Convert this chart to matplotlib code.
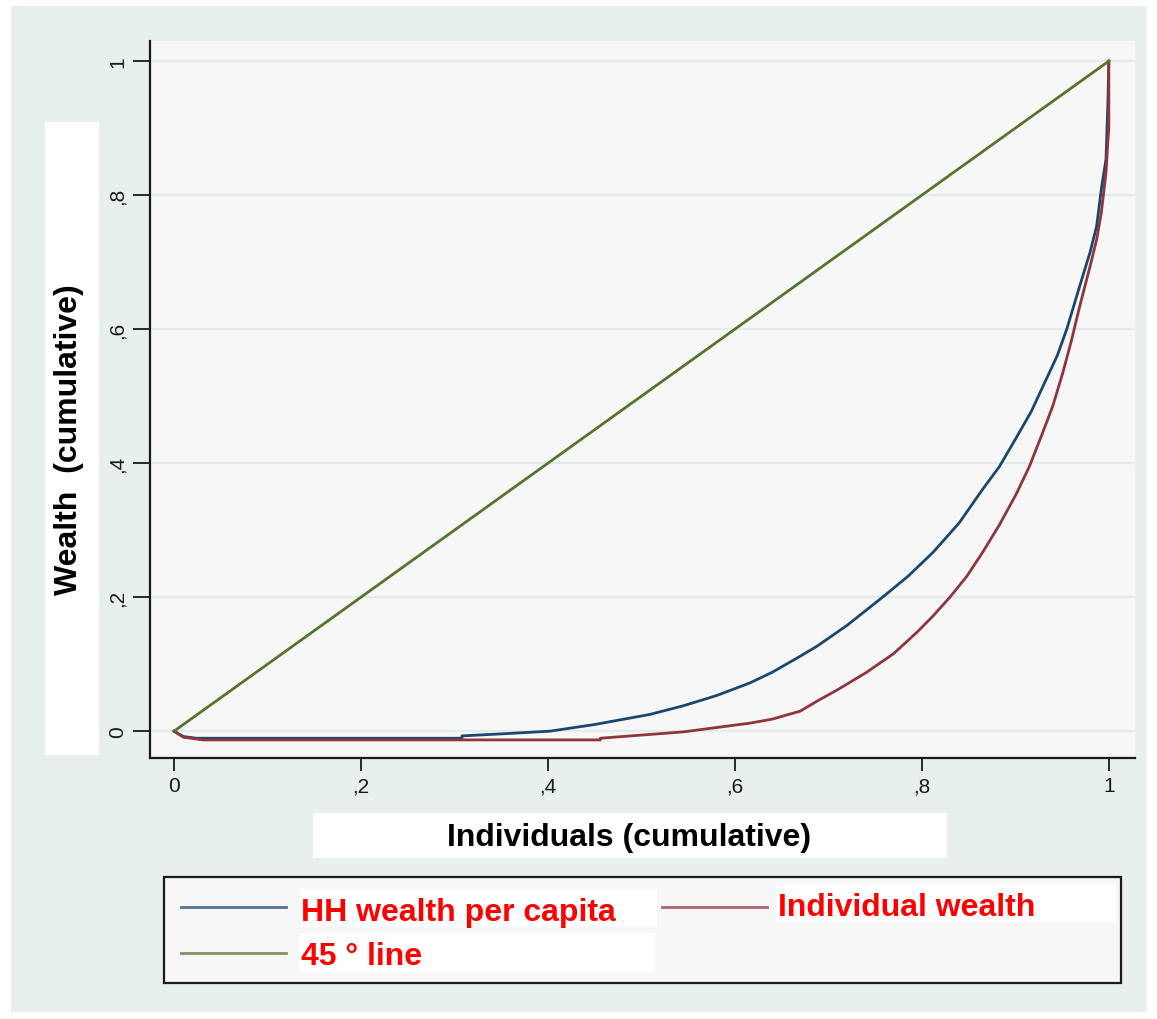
# ============================================================
# LIBRARIES
# ============================================================

import matplotlib
matplotlib.use("Agg")

import matplotlib.pyplot as plt
from matplotlib.patches import Rectangle
from matplotlib.lines import Line2D


# ============================================================
# DATA (Lorenz curves)
# ============================================================

hh_x = [0.0, 0.010, 0.024, 0.308, 0.308, 0.35, 0.402, 0.45, 0.509,
        0.545, 0.58, 0.616, 0.64, 0.670, 0.688, 0.72, 0.758, 0.785,
        0.812, 0.84, 0.865, 0.883, 0.901, 0.917, 0.933, 0.945, 0.955,
        0.969, 0.980, 0.987, 0.992, 0.997, 0.999, 1.0]
hh_y = [0.0, -0.008, -0.0105, -0.0105, -0.007, -0.004, 0.0, 0.010, 0.025,
        0.038, 0.053, 0.072, 0.088, 0.112, 0.127, 0.158, 0.200, 0.231,
        0.267, 0.311, 0.361, 0.395, 0.438, 0.477, 0.525, 0.561, 0.600,
        0.665, 0.715, 0.754, 0.809, 0.854, 0.939, 1.0]

ind_x = [0.0, 0.010, 0.031, 0.456, 0.456, 0.545, 0.616, 0.64, 0.670,
         0.688, 0.71, 0.741, 0.77, 0.795, 0.812, 0.830, 0.848, 0.865,
         0.883, 0.901, 0.915, 0.928, 0.94, 0.951, 0.96, 0.969, 0.980,
         0.987, 0.992, 0.997, 0.999, 1.0, 1.0]
ind_y = [0.0, -0.009, -0.013, -0.013, -0.0105, -0.001, 0.012, 0.018, 0.030,
         0.045, 0.062, 0.088, 0.116, 0.148, 0.172, 0.200, 0.231, 0.267,
         0.308, 0.354, 0.395, 0.441, 0.485, 0.536, 0.583, 0.635, 0.694,
         0.734, 0.774, 0.834, 0.880, 0.900, 1.0]

line45_x = [0.0, 1.0]
line45_y = [0.0, 1.0]

tick_values = [0, 0.2, 0.4, 0.6, 0.8, 1]
tick_labels = ["0", ",2", ",4", ",6", ",8", "1"]

series_labels = ["HH wealth per capita", "Individual wealth", "45 \u00b0 line"]


# ============================================================
# STYLE
# ============================================================

W, H = 1157, 1020

BLUE = "#1a476f"
RED = "#90353b"
GREEN = "#55752f"
OUTER_BG = "#e7efef"
PLOT_BG = "#f7f7f7"
GRID = "#e3ecec"
INK = "#1a1a1a"

plt.rcParams["font.family"] = ["Liberation Sans", "DejaVu Sans"]


def fx(px):
    return px / W


def fy(py):
    return 1 - py / H


# ============================================================
# FIGURE
# ============================================================

fig = plt.figure(figsize=(W / 100, H / 100), dpi=100)
fig.patch.set_facecolor("white")

fig.add_artist(
    Rectangle(
        (fx(11), fy(1013)),
        fx(1147) - fx(11),
        fy(7) - fy(1013),
        transform=fig.transFigure,
        facecolor=OUTER_BG,
        edgecolor="none",
        zorder=0
    )
)

ax = fig.add_axes([
    fx(150),
    fy(759),
    fx(1135) - fx(150),
    fy(42) - fy(759)
])

ax.set_facecolor(PLOT_BG)

ax.plot(hh_x, hh_y, color=BLUE, linewidth=2, zorder=3)
ax.plot(ind_x, ind_y, color=RED, linewidth=2, zorder=4)
ax.plot(line45_x, line45_y, color=GREEN, linewidth=2, zorder=5)

ax.set_xlim(-0.0257, 1.028)
ax.set_ylim(-0.040, 1.030)

ax.set_xticks(tick_values)
ax.set_xticklabels(tick_labels, fontsize=15, color=INK)
ax.set_yticks(tick_values)
ax.set_yticklabels(tick_labels, fontsize=15, color=INK,
                   rotation=90, va="center")

ax.tick_params(axis="x", length=9, width=1.3, color=INK, pad=4)
ax.tick_params(axis="y", length=12.5, width=1.3, color=INK, pad=4)

ax.grid(axis="y", color=GRID, linewidth=1.6, zorder=1)
ax.set_axisbelow(True)

for side in ["top", "right"]:
    ax.spines[side].set_visible(False)

for side in ["left", "bottom"]:
    ax.spines[side].set_color(INK)
    ax.spines[side].set_linewidth(1.6)


# ============================================================
# AXIS TITLES (on white panels)
# ============================================================

fig.add_artist(
    Rectangle(
        (fx(45), fy(756)),
        fx(99) - fx(45),
        fy(123) - fy(756),
        transform=fig.transFigure,
        facecolor="white",
        edgecolor="none",
        zorder=2
    )
)

fig.text(
    fx(69), fy(440),
    "Wealth  (cumulative)",
    rotation=90,
    ha="center",
    va="center",
    fontsize=23,
    fontweight="bold",
    color="black",
    zorder=3
)

fig.add_artist(
    Rectangle(
        (fx(313), fy(859)),
        fx(947) - fx(313),
        fy(814) - fy(859),
        transform=fig.transFigure,
        facecolor="white",
        edgecolor="none",
        zorder=2
    )
)

fig.text(
    fx(629), fy(846),
    "Individuals (cumulative)",
    ha="center",
    va="baseline",
    fontsize=23,
    fontweight="bold",
    color="black",
    zorder=3
)


# ============================================================
# LEGEND
# ============================================================

fig.add_artist(
    Rectangle(
        (fx(164), fy(984)),
        fx(1121) - fx(164),
        fy(878) - fy(984),
        transform=fig.transFigure,
        facecolor=PLOT_BG,
        edgecolor=INK,
        linewidth=1.6,
        zorder=2
    )
)

legend_entries = [
    # (color, line x0, line x1, line y, box, text x, text baseline)
    (BLUE, 181, 286, 908, (300, 890, 657, 928), 301, 921),
    (RED, 662, 767, 908, (776, 885, 1116, 923), 778, 916),
    (GREEN, 181, 286, 954, (299, 934, 655, 973), 301, 965),
]

for (color, lx0, lx1, ly, box, tx, ty), label in zip(legend_entries,
                                                     series_labels):

    fig.add_artist(
        Line2D(
            [fx(lx0), fx(lx1)],
            [fy(ly), fy(ly)],
            transform=fig.transFigure,
            color=color,
            linewidth=2,
            alpha=0.75,
            zorder=3
        )
    )

    bx0, by0, bx1, by1 = box

    fig.add_artist(
        Rectangle(
            (fx(bx0), fy(by1)),
            fx(bx1) - fx(bx0),
            fy(by0) - fy(by1),
            transform=fig.transFigure,
            facecolor="white",
            edgecolor="none",
            zorder=3
        )
    )

    fig.text(
        fx(tx), fy(ty),
        label,
        ha="left",
        va="baseline",
        fontsize=23,
        fontweight="bold",
        color="#ff0000",
        zorder=4
    )


# ============================================================
# SAVE
# ============================================================

fig.savefig("out.png", dpi=100)
